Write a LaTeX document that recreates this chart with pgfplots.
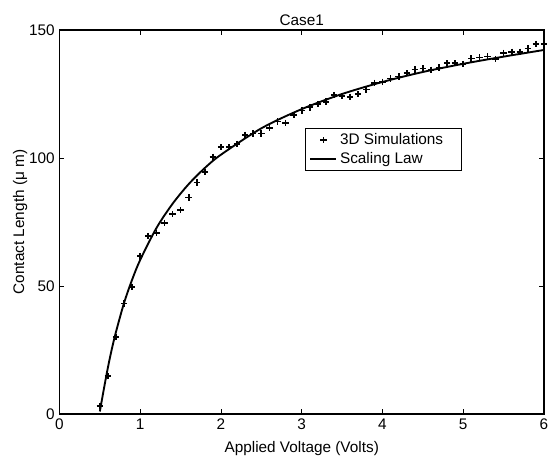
\documentclass[border=0pt]{standalone}
\usepackage{fontspec}
\setmainfont{Liberation Sans}
\usepackage{pgfplots}
\pgfplotsset{compat=1.18}
\pgfplotstableread{
x y
0.5 3.1
0.6 14.8
0.7 30.0
0.8 43.2
0.9 49.7
1.0 61.6
1.1 69.5
1.2 70.8
1.3 74.7
1.4 78.1
1.5 79.7
1.6 84.6
1.7 90.4
1.8 94.6
1.9 100.5
2.0 104.2
2.1 104.2
2.2 105.5
2.3 109.1
2.4 109.6
2.5 109.6
2.6 111.7
2.7 114.3
2.8 113.6
2.9 116.8
3.0 118.6
3.1 119.8
3.2 121.0
3.3 122.0
3.4 124.6
3.5 124.2
3.6 123.9
3.7 124.9
3.8 126.8
3.9 129.4
4.0 129.8
4.1 131.1
4.2 131.8
4.3 133.1
4.4 134.6
4.5 135.0
4.6 134.4
4.7 135.3
4.8 137.0
4.9 137.0
5.0 136.7
5.1 138.9
5.2 139.3
5.3 139.6
5.4 138.6
5.5 141.1
5.6 141.5
5.7 141.5
5.8 142.8
5.9 144.5
6.0 144.5
}\simdata
\pgfplotstableread{
x y
0.50 1.0
0.55 9.8
0.60 18.2
0.65 25.6
0.70 32.1
0.80 43.4
0.90 52.5
1.00 60.2
1.20 72.6
1.40 82.1
1.60 89.8
1.80 96.1
2.00 101.3
2.50 111.6
3.00 119.1
3.50 125.0
4.00 129.7
4.50 133.6
5.00 136.8
5.50 139.6
6.00 142.2
}\lawdata
\begin{document}
\begin{tikzpicture}
\useasboundingbox (0,0) rectangle (411pt,343.5pt);
\begin{axis}[
  at={(44.6pt,33pt)}, anchor=south west,
  scale only axis,
  width=363.4pt, height=288pt,
  xmin=0, xmax=6, ymin=0, ymax=150,
  xtick={0,1,2,3,4,5,6},
  ytick={0,50,100,150},
  tick align=inside,
  major tick length=3.5pt,
  axis line style={line width=0.8pt},
  every tick/.style={line width=0.6pt, black},
  tick label style={font=\fontsize{11.5}{13}\selectfont},
  /pgf/number format/assume math mode=true,
  label style={font=\fontsize{11.5}{13}\selectfont},
  xlabel={Applied Voltage (Volts)},
  ylabel={Contact Length (μ m)},
  xlabel style={yshift=-2pt},
  ylabel style={yshift=-5.5pt},
  title={Case1},
  title style={font=\fontsize{11.5}{13}\selectfont, yshift=-6pt},
  legend style={at={(0.507,0.745)}, anchor=north west, draw=black, line width=0.6pt,
    font=\fontsize{11.5}{13}\selectfont, inner xsep=3pt, inner ysep=2pt, row sep=0pt,
    legend cell align=left},
]
\addplot[only marks, mark=+, mark size=2.4pt, mark options={line width=1.3pt},
  legend image code/.code={\path[draw=none] (0pt,0pt) -- (19.5pt,0pt);
    \path[draw=none] plot[mark=+, only marks, mark options={line width=1.3pt, draw=black}] coordinates {(9.75pt,0pt)};}]
  table[x=x,y=y] {\simdata};
\addlegendentry{3D Simulations\hspace*{9pt}}
\addplot[line width=1.4pt, smooth,
  legend image code/.code={\draw[line width=1.4pt] (0pt,0pt) -- (19.5pt,0pt);}]
  table[x=x,y=y] {\lawdata};
\addlegendentry{Scaling Law}
\end{axis}
\end{tikzpicture}
\end{document}
